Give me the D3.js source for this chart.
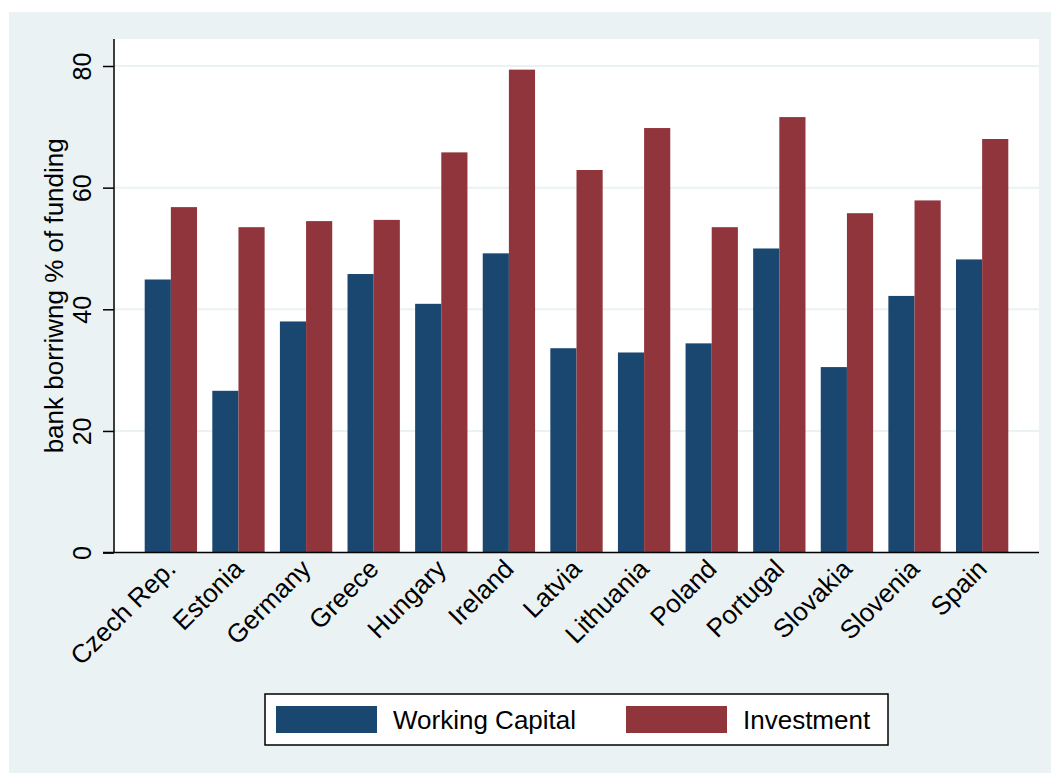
<!DOCTYPE html>
<html>
<head>
<meta charset="utf-8">
<script src="https://cdn.jsdelivr.net/npm/d3@7"></script>
<style>
  body { margin: 0; background: #fff; }
  svg { display: block; font-family: "Liberation Sans", Arial, Helvetica, sans-serif; }
</style>
</head>
<body>
<svg id="chart" width="1051" height="773"></svg>
<script>
// data
const countries = ["Czech Rep.", "Estonia", "Germany", "Greece", "Hungary", "Ireland", "Latvia",
                   "Lithuania", "Poland", "Portugal", "Slovakia", "Slovenia", "Spain"];
const workingCapital = [44.9, 26.6, 38.0, 45.8, 40.9, 49.2, 33.6, 32.9, 34.4, 50.0, 30.5, 42.2, 48.2];
const investment     = [56.8, 53.5, 54.5, 54.7, 65.8, 79.4, 62.9, 69.8, 53.5, 71.6, 55.8, 57.9, 68.0];
const seriesNames = ["Working Capital", "Investment"];
const seriesColors = ["#1a476f", "#90353b"];
const yTicks = [0, 20, 40, 60, 80];

const svg = d3.select("#chart");

// outer graph region (Stata s2color look)
svg.append("rect").attr("x", 9).attr("y", 12).attr("width", 1042).attr("height", 761)
    .attr("fill", "#eaf2f3");

const plot = { left: 114, right: 1039, top: 39, bottom: 552.6 };

// plot region
svg.append("rect")
    .attr("x", plot.left).attr("y", plot.top)
    .attr("width", plot.right - plot.left).attr("height", plot.bottom - plot.top)
    .attr("fill", "#fff");

const x0 = d3.scaleBand().domain(countries)
    .range([plot.left, plot.right])
    .paddingInner(0.226).paddingOuter(0.454);
const x1 = d3.scaleBand().domain(seriesNames).range([0, x0.bandwidth()]);
const y = d3.scaleLinear().domain([0, 80]).range([plot.bottom, 66]);

// gridlines
svg.append("g").selectAll("line")
    .data(yTicks.filter(d => d > 0))
    .join("line")
    .attr("x1", plot.left).attr("x2", plot.right)
    .attr("y1", d => y(d)).attr("y2", d => y(d))
    .attr("stroke", "#eaf2f3").attr("stroke-width", 2);

// bars
const rows = countries.map((c, i) => ({ country: c, values: [workingCapital[i], investment[i]] }));
const groups = svg.append("g").selectAll("g")
    .data(rows)
    .join("g")
    .attr("transform", d => `translate(${x0(d.country)},0)`);

groups.selectAll("rect")
    .data(d => d.values.map((v, k) => ({ key: seriesNames[k], value: v, k })))
    .join("rect")
    .attr("x", d => x1(d.key))
    .attr("y", d => y(d.value))
    .attr("width", x1.bandwidth())
    .attr("height", d => y(0) - y(d.value))
    .attr("fill", d => seriesColors[d.k]);

// y axis
const yAxis = svg.append("g").attr("transform", `translate(${plot.left},0)`)
    .call(d3.axisLeft(y).tickValues(yTicks).tickSize(11).tickPadding(12).tickFormat(d3.format("d")));
yAxis.select(".domain").attr("d", `M0,${plot.top}V${plot.bottom}`).attr("stroke", "#000").attr("stroke-width", 1.5);
yAxis.selectAll(".tick line").attr("stroke", "#000").attr("stroke-width", 1.5);
yAxis.selectAll(".tick text")
    .attr("font-size", 25).attr("fill", "#000")
    .attr("x", 0).attr("dy", 0)
    .attr("text-anchor", "middle")
    .attr("transform", "translate(-23,0) rotate(-90)");

// x axis
svg.append("line")
    .attr("x1", 103).attr("x2", plot.right)
    .attr("y1", plot.bottom).attr("y2", plot.bottom)
    .attr("stroke", "#000").attr("stroke-width", 1.5);

svg.append("g").selectAll("text")
    .data(countries)
    .join("text")
    .attr("transform", d => `translate(${x0(d) + x0.bandwidth() / 2},564) rotate(-45)`)
    .attr("text-anchor", "end")
    .attr("dy", "0.35em")
    .attr("font-size", 26)
    .attr("fill", "#000")
    .text(d => d);

// y axis title
svg.append("text")
    .attr("transform", `translate(63,${(plot.top + plot.bottom) / 2}) rotate(-90)`)
    .attr("text-anchor", "middle")
    .attr("font-size", 26)
    .attr("fill", "#000")
    .text("bank borriwng % of funding");

// legend
const legend = svg.append("g");
legend.append("rect")
    .attr("x", 265).attr("y", 694).attr("width", 623).attr("height", 51)
    .attr("fill", "#fff").attr("stroke", "#000").attr("stroke-width", 1.5);
const legendX = [276, 626];
const legendItems = legend.selectAll("g.item")
    .data(seriesNames)
    .join("g").attr("class", "item")
    .attr("transform", (d, i) => `translate(${legendX[i]},706)`);
legendItems.append("rect")
    .attr("width", 101).attr("height", 27)
    .attr("fill", (d, i) => seriesColors[i]);
legendItems.append("text")
    .attr("x", 117).attr("y", 13.5).attr("dy", "0.35em")
    .attr("font-size", 26).attr("fill", "#000")
    .text(d => d);
</script>
</body>
</html>
